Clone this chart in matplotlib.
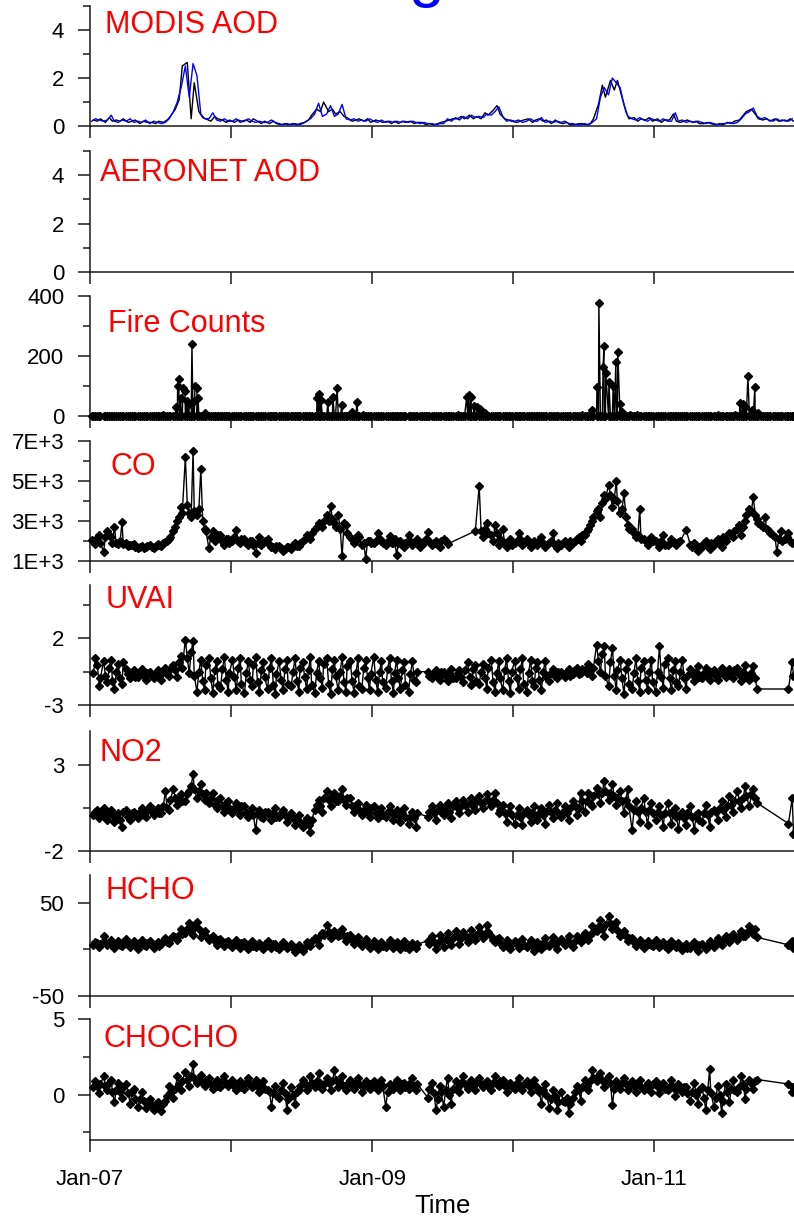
import numpy as np
import pandas as pd
import matplotlib
matplotlib.use("Agg")
import matplotlib.pyplot as plt

plt.rcParams['font.family'] = ['Liberation Sans', 'DejaVu Sans']

nan = np.nan
W, H = 794, 1218

# sample dates: two interleaved sets of three per month, Jan 2007 - Dec 2011
months = pd.date_range('2007-01-01', '2011-12-01', freq='MS')
dates = pd.DatetimeIndex([m + pd.Timedelta(days=d) for m in months for d in (4, 14, 24)])
dates_b = pd.DatetimeIndex([m + pd.Timedelta(days=d) for m in months for d in (9, 19, 27)])

xtick_dates = ['2007-01-01', '2008-01-01', '2009-01-01', '2010-01-01', '2011-01-01']
xtick_labels = ['Jan-07', '', 'Jan-09', '', 'Jan-11']

# MODIS AOD (blue = Aqua on dates, black = Terra on dates_b)
aod_aqua = [
    0.2, 0.3, 0.25, 0.2, 0.25, 0.45, 0.2, 0.15, 0.25, 0.2, 0.3, 0.15, 0.2, 0.15, 0.25, 0.1, 0.2, 0.15,
    0.1, 0.15, 0.3, 0.6, 1.0, 1.6, 2.5, 1.2, 2.6, 2.1, 0.5, 0.3, 0.3, 0.55, 0.25, 0.2, 0.3, 0.2,
    0.2, 0.3, 0.15, 0.2, 0.3, 0.2, 0.15, 0.2, 0.15, 0.15, 0.25, 0.15, 0.1, 0.05, 0.1, 0.05, 0.1, 0.05,
    0.1, 0.2, 0.3, 0.5, 0.95, 0.4, 0.5, 0.85, 0.4, 0.5, 0.9, 0.3, 0.25, 0.3, 0.2, 0.25, 0.2, 0.3,
    0.2, 0.15, 0.25, 0.15, 0.2, 0.15, 0.2, 0.15, 0.2, 0.15, 0.2, 0.15, 0.1, 0.15, 0.1, 0.1, 0.05, 0.1,
    0.1, 0.3, 0.2, 0.35, 0.25, 0.4, 0.3, 0.45, 0.35, 0.4, 0.35, 0.5, 0.45, 0.6, 0.8, 0.4, 0.2, 0.25,
    0.2, 0.25, 0.15, 0.2, 0.3, 0.2, 0.2, 0.35, 0.15, 0.2, 0.15, 0.2, 0.15, 0.2, 0.1, 0.1, 0.05, 0.05,
    0.1, 0.05, 0.15, 0.3, 1.2, 1.6, 1.3, 2.0, 1.8, 1.6, 0.9, 0.4, 0.3, 0.25, 0.35, 0.25, 0.2, 0.3,
    0.25, 0.2, 0.3, 0.2, 0.2, 0.55, 0.2, 0.25, 0.15, 0.2, 0.15, 0.2, 0.15, 0.1, 0.15, 0.1, 0.05, 0.1,
    0.1, 0.15, 0.1, 0.15, 0.3, 0.5, 0.6, 0.75, 0.4, 0.3, 0.35, 0.25, 0.2, 0.3, 0.2, 0.25, 0.2, 0.3,
]
aod_terra = [
    0.25, 0.2, 0.3, 0.15, 0.35, 0.2, 0.25, 0.2, 0.3, 0.15, 0.2, 0.25, 0.1, 0.2, 0.15, 0.15, 0.1, 0.2,
    0.15, 0.25, 0.4, 0.7, 1.1, 2.5, 2.65, 0.3, 1.8, 0.6, 0.35, 0.3, 0.2, 0.4, 0.3, 0.25, 0.15, 0.25,
    0.15, 0.25, 0.2, 0.25, 0.15, 0.3, 0.2, 0.1, 0.2, 0.1, 0.2, 0.1, 0.05, 0.1, 0.05, 0.1, 0.05, 0.1,
    0.15, 0.25, 0.45, 0.7, 0.6, 1.0, 0.6, 0.7, 0.5, 0.6, 0.4, 0.35, 0.2, 0.25, 0.3, 0.2, 0.3, 0.15,
    0.25, 0.2, 0.15, 0.2, 0.1, 0.2, 0.1, 0.2, 0.15, 0.2, 0.1, 0.15, 0.15, 0.05, 0.1, 0.05, 0.1, 0.15,
    0.2, 0.25, 0.3, 0.3, 0.4, 0.3, 0.45, 0.3, 0.4, 0.3, 0.55, 0.45, 0.65, 0.85, 0.5, 0.3, 0.25, 0.2,
    0.15, 0.2, 0.25, 0.3, 0.15, 0.25, 0.3, 0.2, 0.25, 0.1, 0.25, 0.15, 0.1, 0.15, 0.05, 0.05, 0.1, 0.1,
    0.05, 0.1, 0.3, 0.9, 1.7, 1.2, 1.9, 1.5, 1.9, 1.2, 0.6, 0.3, 0.35, 0.2, 0.3, 0.25, 0.35, 0.2,
    0.3, 0.15, 0.25, 0.25, 0.5, 0.2, 0.15, 0.2, 0.25, 0.15, 0.2, 0.1, 0.1, 0.15, 0.1, 0.05, 0.1, 0.05,
    0.15, 0.1, 0.2, 0.25, 0.45, 0.6, 0.7, 0.5, 0.3, 0.25, 0.3, 0.2, 0.3, 0.2, 0.25, 0.2, 0.3, 0.2,
]
aeronet_aod = []  # no AERONET data in this period

# fire counts: zero on all sampled dates, plus these fire days
fire_days = [
    '2007-07-09', '2007-08-11', '2007-08-16', '2007-08-19', '2007-08-24', '2007-08-30', '2007-09-04',
    '2007-09-09', '2007-09-14', '2007-09-22', '2007-09-27', '2007-09-30', '2007-10-05', '2007-10-08',
    '2007-10-26',
    '2008-08-11', '2008-08-16', '2008-08-21', '2008-09-08', '2008-09-21', '2008-10-02', '2008-10-15',
    '2008-11-09', '2008-11-22', '2008-12-08',
    '2009-08-11', '2009-09-03', '2009-09-08', '2009-09-14', '2009-09-21', '2009-09-29', '2009-10-07',
    '2009-10-20',
    '2010-06-29', '2010-07-24', '2010-08-06', '2010-08-11', '2010-08-22', '2010-08-24', '2010-08-29',
    '2010-09-06', '2010-09-17', '2010-09-24', '2010-09-29', '2010-10-05', '2010-10-10', '2010-10-31',
    '2010-11-18',
    '2011-06-15', '2011-07-29', '2011-08-11', '2011-08-19', '2011-08-24', '2011-09-01', '2011-09-12',
    '2011-09-19', '2011-09-27',
]
fire_counts = [
    5, 30, 100, 125, 60, 95, 85, 50, 40, 240, 50, 100, 95, 60, 10,
    60, 73, 55, 47, 63, 93, 38, 15, 47, 5,
    5, 65, 70, 65, 35, 30, 25, 10,
    5, 20, 97, 377, 163, 233, 143, 113, 100, 180, 213, 40, 15, 5, 5,
    3, 5, 43, 40, 30, 133, 20, 97, 10,
]

co = [
    2050, 1850, 2300, 1450, 2500, 2200, 2700, 1850, 2950, 1900, 1800, 1850, 1650, 1750, 1700, 1800, 1650, 1850,
    1750, 1950, 2100, 2500, 3000, 3700, 6200, 3400, 6500, 3300, 5600, 2600, 1650, 2500, 2200, 2300, 1800, 2100,
    2000, 2550, 1900, 2100, 1800, 2000, 1400, 2200, 1900, 2100, 1700, 1600, 1750, 1500, 1700, 1600, 1900, 1750,
    2000, 2300, 2100, 2600, 2900, 2700, 3300, 3750, 2900, 3300, 1250, 2800, 2200, 1900, 2300, 1800, 1100, 2000,
    1900, 2400, 2000, 1800, 2250, 1900, 1300, 2000, 1700, 2300, 1800, 2000, 1700, 1900, 2450, 1800, 2000, 1700,
    2100, 1850, nan, nan, nan, nan, nan, nan, 2500, 4750, 2200, 2900, 2300, 2800, 1800, 2600, 1700, 2100,
    1900, 2400, 1800, 2100, 1700, 2000, 1800, 2200, 1700, 1900, 2400, 1650, 1800, 2000, 1700, 1900, 2100, 2000,
    2300, 2600, 3000, 3500, 3200, 4300, 4800, 3700, 5000, 3400, 4400, 2800, 2600, 2200, 3600, 2100, 1800, 2200,
    2000, 1700, 2300, 1800, 2100, 1900, 1950, nan, 2550, 1800, 1900, 1500, 1700, 2000, 1600, 1800, 2100, 1700,
    2000, 2400, 2200, 2600, 2300, 3000, 3600, 4200, 3100, 2800, 3200, 2500, 2300, 1450, 2500, 2100, 2400, 1900,
]
co_b = [
    2000, 2150, 1900, 2200, 2300, 1900, 1900, 2000, 1850, 1750, 1800, 1700, 1700, 1650, 1750, 1700, 1750, 1800,
    1900, 2000, 2200, 2700, 3200, 3400, 3800, 3200, 3500, 3600, 3000, 2500, 2200, 2000, 2300, 2000, 2100, 1900,
    2200, 2000, 2100, 1900, 2000, 1800, 1900, 1800, 2000, 1800, 1700, 1750, 1650, 1600, 1700, 1800, 1750, 1900,
    2100, 2200, 2400, 2700, 2800, 3000, 3000, 3100, 2700, 2600, 2900, 2400, 2100, 2000, 2200, 1900, 2000, 1900,
    2000, 2100, 1900, 2000, 1900, 2100, 1900, 1800, 1900, 2000, 1900, 2100, 1900, 2100, 2000, 1900, 1800, 2000,
    2000, nan, nan, nan, nan, nan, nan, nan, nan, 2500, 2600, 2400, 2000, 2400, 2100, 1900, 2000, 1800,
    2000, 2100, 1900, 1900, 1850, 1900, 2000, 1900, 1800, 2000, 1800, 1900, 1900, 1850, 2000, 2000, 2200, 2300,
    2500, 2800, 3200, 3600, 3900, 4100, 4300, 4100, 4000, 3600, 3200, 2600, 2400, 2300, 2100, 2000, 1900, 2000,
    1900, 2000, 1800, 1900, 2000, 1800, 2000, nan, nan, 1700, 1800, 1700, 1900, 1800, 1900, 2000, 1900, 2200,
    2200, 2300, 2500, 2800, 2700, 3300, 3500, 3300, 2900, 2700, 2600, 2400, 2200, 2100, 2000, 2200, 2000, nan,
]

uvai = [
    nan, 0.5, -1.6, 0.3, -1.3, 0.4, -1.8, 0.1, -1.4, -0.3, -1.0, -0.4, -0.9, -0.3, -1.1, -0.5, -1.0, -0.4,
    -1.1, -0.2, -0.8, 0.0, -0.9, 0.7, 1.9, -0.6, 1.8, -2.0, 0.4, -1.9, 0.5, -2.1, 0.3, -1.7, 0.6, -2.0,
    0.4, -1.9, 0.5, -2.1, 0.3, -1.6, 0.6, -2.0, 0.2, -1.8, 0.5, -2.2, 0.3, -1.9, 0.4, -1.6, 0.5, -2.0,
    0.2, -1.8, 0.6, -2.1, 0.3, -1.7, 0.5, -2.2, 0.4, -1.9, 0.6, -2.0, 0.3, -2.1, 0.5, -1.8, 0.4, -1.9,
    0.6, -2.0, 0.3, -1.7, 0.5, -2.1, 0.4, -1.8, 0.2, -2.0, 0.3, -1.3, nan, nan, -0.5, -1.0, -0.4, -1.1,
    -0.5, -1.2, -0.3, -1.0, -0.4, -1.3, 0.2, -1.5, 0.0, -1.4, 0.1, -1.8, 0.4, -2.0, 0.3, -1.9, 0.5, -2.1,
    0.3, -1.8, 0.5, -2.0, 0.4, -1.6, 0.2, -1.9, 0.3, -1.2, -0.3, -1.0, -0.5, -0.9, -0.3, -0.7, -0.2, -0.6,
    -0.4, 0.1, -0.8, 1.5, -0.5, 1.4, -1.6, 1.3, -1.9, 0.4, -2.2, 0.2, -1.8, 0.5, -2.0, 0.3, -1.9, 0.4,
    -2.0, 1.4, -1.7, 0.5, -1.9, 0.3, -1.6, 0.4, -1.8, -0.3, -1.2, -0.1, -1.0, -0.2, -1.1, -0.4, -1.1, -0.2,
    -0.9, -0.3, -1.0, -0.2, -1.2, 0.0, -1.1, -0.1, -1.8, nan, nan, nan, nan, nan, nan, nan, -1.8, 0.2,
]
uvai_b = [
    -0.6, 0.0, -1.0, -0.8, -0.2, -1.2, -0.5, -1.0, 0.2, -0.7, -0.5, -0.9, -0.5, -0.8, -0.6, -0.8, -0.6, -0.9,
    -0.5, -0.7, -0.3, -0.4, 0.2, -0.2, 0.5, 1.0, -0.8, -0.5, -1.2, 0.0, -1.0, -0.4, -1.5, -0.3, -1.1, -0.6,
    -0.9, -0.2, -1.4, -0.6, -1.1, 0.0, -1.3, -0.4, -0.9, -0.2, -1.5, -0.7, -1.1, -0.3, -1.4, -0.5, -1.2, -0.2,
    -0.9, -0.4, -1.5, -0.6, -1.0, 0.1, -1.4, -0.3, -0.8, -0.5, -1.3, -0.1, -1.2, -0.6, -1.6, -0.2, -1.0, -0.7,
    -1.1, -0.5, -1.3, -0.3, -1.2, -0.6, -1.0, -0.4, -1.5, -0.7, -1.1, -0.5, nan, nan, -0.8, -0.6, -0.9, -0.5,
    -0.8, -0.6, -1.0, -0.6, -0.9, -0.4, -0.9, -0.3, -1.2, -0.5, -1.0, -0.2, -1.3, -0.6, -1.0, -0.4, -1.2, -0.5,
    -1.0, -0.3, -1.4, -0.6, -1.2, -0.2, -1.1, -0.5, -0.9, -0.6, -0.8, -0.5, -0.7, -0.5, -0.8, -0.4, -0.7, -0.3,
    -0.6, -0.3, -0.2, 0.3, 0.8, -0.8, 0.2, -0.8, -0.4, -1.0, -0.3, -1.4, -0.6, -1.2, -0.2, -1.1, -0.5, -1.3,
    -0.5, -0.9, 0.1, -1.0, -0.4, -1.3, -0.5, -1.0, -0.8, -0.7, -0.5, -0.9, -0.6, -0.8, -0.5, -0.8, -0.6, -0.7,
    -0.5, -0.8, -0.4, -0.7, -0.5, -0.9, -0.6, -1.0, nan, nan, nan, nan, nan, nan, nan, nan, nan, -0.8,
]

no2 = [
    nan, 0.3, -0.1, 0.5, -0.2, 0.4, -0.3, 0.2, -0.6, 0.4, -0.2, 0.3, -0.1, 0.5, 0.0, 0.6, 0.1, 0.5,
    0.2, 1.5, 0.4, 1.6, 0.7, 1.3, 0.9, 1.5, 2.5, 1.1, 1.9, 1.0, 0.8, 1.4, 0.5, 1.1, 0.3, 0.9,
    0.2, 0.8, 0.1, 0.6, 0.0, 0.5, -0.8, 0.4, -0.1, 0.3, -0.2, 0.5, 0.0, 0.4, -0.3, 0.2, -0.5, 0.1,
    -0.6, -0.1, -0.9, 0.4, 1.0, 0.3, 1.5, 0.6, 1.4, 0.9, 1.6, 0.7, 1.1, 0.3, 0.8, 0.1, 0.7, 0.0,
    0.6, -0.1, 0.5, 0.0, 0.6, -0.2, 0.4, -0.3, 0.5, -0.4, 0.3, -0.6, nan, nan, 0.0, 0.6, -0.2, 0.7,
    0.1, 0.8, -0.1, 0.9, 0.2, 1.0, 0.3, 1.1, 0.4, 1.2, 0.5, 1.3, 0.6, 1.4, 0.2, 0.7, -0.3, 0.6,
    -0.4, 0.5, -0.5, 0.4, -0.3, 0.6, -0.2, 0.5, -0.4, 0.7, -0.1, 0.8, 0.0, 0.6, -0.2, 0.9, 0.1, 1.4,
    0.3, 1.4, 0.6, 1.7, 0.8, 2.1, 1.0, 1.9, 0.7, 1.5, 0.2, 1.6, -0.8, 0.9, -0.3, 1.1, -0.5, 0.8,
    -0.2, 0.6, -0.6, 0.8, -0.4, 0.5, -0.7, 0.3, -0.5, 0.6, -0.8, 0.2, -0.3, 0.7, -0.6, 0.4, -0.2, 0.9,
    0.0, 1.2, 0.3, 1.5, 0.5, 1.8, 0.6, 1.6, 0.8, nan, nan, nan, nan, nan, nan, nan, -0.4, 1.1,
]
no2_b = [
    0.1, 0.4, 0.2, 0.0, 0.3, 0.1, 0.1, -0.2, 0.3, 0.0, 0.2, 0.1, 0.3, 0.1, 0.4, 0.3, 0.4, 0.2,
    0.6, 0.5, 1.0, 1.1, 1.0, 0.9, 1.3, 1.8, 1.6, 1.5, 1.3, 1.4, 1.1, 0.7, 1.0, 0.6, 0.8, 0.5,
    0.5, 0.4, 0.6, 0.3, 0.2, 0.1, 0.2, 0.0, 0.3, 0.1, 0.2, 0.0, 0.2, 0.1, 0.0, -0.1, -0.2, -0.3,
    -0.3, -0.5, -0.2, 0.7, 0.6, 1.1, 1.0, 1.2, 0.9, 1.2, 1.0, 1.1, 0.6, 0.7, 0.4, 0.4, 0.3, 0.5,
    0.2, 0.3, 0.1, 0.3, 0.2, 0.2, 0.1, 0.2, 0.0, 0.0, -0.1, 0.2, nan, nan, 0.3, 0.2, 0.4, 0.3,
    0.5, 0.3, 0.6, 0.5, 0.6, 0.7, 0.8, 0.6, 0.9, 0.8, 0.9, 1.0, 1.0, 0.8, 0.4, 0.2, 0.3, 0.1,
    0.1, 0.0, 0.2, 0.1, 0.2, 0.0, 0.2, 0.1, 0.3, 0.3, 0.4, 0.2, 0.3, 0.2, 0.5, 0.6, 0.5, 0.9,
    0.9, 0.8, 1.2, 1.3, 1.4, 1.5, 1.4, 1.2, 1.1, 0.9, 1.0, 0.6, 0.4, 0.3, 0.5, 0.3, 0.4, 0.2,
    0.3, 0.1, 0.2, 0.2, 0.3, 0.0, 0.1, -0.1, 0.2, 0.0, 0.1, -0.2, 0.2, 0.1, 0.3, 0.3, 0.5, 0.4,
    0.6, 0.7, 0.9, 0.9, 1.1, 1.2, 1.3, 1.1, nan, nan, nan, nan, nan, nan, nan, nan, nan, -1.0,
]

hcho = [
    nan, 8, 3, 14, 5, 10, 2, 9, 4, 11, 3, 9, 1, 10, 4, 9, 2, 8,
    6, 12, 7, 15, 10, 22, 18, 28, 16, 30, 13, 20, 10, 15, 5, 11, 4, 9,
    3, 10, 2, 8, 1, 9, 3, 7, 0, 9, 2, 6, 0, 8, 2, 6, -3, 5,
    -2, 8, 4, 12, 5, 18, 26, 12, 20, 14, 22, 9, 16, 6, 13, 4, 11, 2,
    9, 1, 8, 3, 10, 2, 8, 0, 9, 1, 7, 2, nan, nan, 9, 14, 0, 16,
    3, 18, 5, 20, 6, 19, 8, 21, 10, 24, 12, 26, 14, 8, 12, 3, 10, 1,
    9, 2, 11, 3, 10, -2, 8, 1, 12, 4, 13, 0, 11, 5, 14, 3, 15, 8,
    18, 10, 25, 20, 32, 15, 36, 22, 30, 14, 20, 9, 12, 4, 10, 2, 9, 5,
    10, 3, 8, 1, 9, 4, 7, -1, 6, 2, 8, -2, 6, 0, 9, 3, 12, 5,
    14, 8, 17, 10, 20, 15, 25, 17, 13, nan, nan, nan, nan, nan, nan, nan, 5, 9,
]
hcho_b = [
    5, 7, 6, 8, 7, 5, 6, 5, 8, 6, 7, 5, 6, 5, 7, 5, 6, 4,
    9, 8, 11, 13, 16, 17, 22, 20, 24, 22, 18, 15, 12, 9, 10, 7, 8, 6,
    6, 5, 7, 5, 6, 4, 5, 4, 6, 5, 6, 3, 4, 5, 3, 2, 1, 2,
    3, 6, 9, 10, 14, 16, 19, 17, 18, 16, 14, 15, 10, 11, 8, 7, 6, 5,
    5, 6, 4, 6, 5, 6, 4, 5, 3, 5, 4, 6, nan, nan, 6, 8, 7, 10,
    11, 9, 12, 13, 12, 14, 15, 13, 16, 18, 17, 19, 10, 11, 7, 6, 5, 6,
    6, 7, 5, 6, 4, 5, 6, 7, 5, 7, 6, 8, 9, 8, 7, 9, 11, 13,
    14, 16, 19, 24, 22, 26, 28, 26, 21, 17, 15, 12, 8, 7, 6, 5, 6, 4,
    6, 5, 4, 5, 6, 3, 3, 4, 2, 4, 3, 5, 4, 5, 6, 8, 7, 10,
    11, 12, 13, 15, 14, 18, 20, 22, nan, nan, nan, nan, nan, nan, nan, nan, nan, 2,
]

chocho = [
    nan, 0.9, 0.1, 1.2, 0.3, 1.0, -0.5, 0.8, -0.2, 0.7, -0.6, 0.4, -0.8, 0.2, -0.9, -0.3, -1.0, -0.5,
    -1.1, -0.4, 0.6, -0.2, 1.2, 0.3, 1.5, 0.6, 2.0, 0.8, 1.3, 0.6, 1.1, 0.4, 1.0, 0.5, 1.2, 0.6,
    1.0, 0.3, 0.9, 0.4, 1.1, 0.5, 1.0, 0.2, 0.9, 0.3, -0.8, 0.6, -0.2, 0.8, -1.0, 0.5, -0.6, 0.3,
    1.0, 0.3, 1.2, 0.5, 1.4, 0.4, 1.1, 0.3, 1.6, 0.5, 1.2, 0.3, 1.0, 0.4, 1.1, 0.2, 0.9, 0.4,
    0.9, 0.3, 1.0, -0.8, 0.7, 0.4, 1.0, 0.3, 0.8, 0.4, 1.1, 0.3, nan, nan, -0.2, 0.8, -1.0, 0.6,
    -0.8, 1.1, -0.6, 0.9, 0.2, 1.2, 0.4, 1.0, 0.3, 1.1, 0.5, 0.9, 0.3, 1.2, 0.6, 1.0, 0.2, 0.8,
    0.4, 1.1, 0.3, 0.9, 0.2, 1.0, 0.5, -0.6, 0.7, -0.9, 0.3, -1.0, 0.2, -0.5, -1.2, -0.2, 0.6, -0.4,
    1.0, 0.3, 1.6, 0.9, 1.4, 0.5, 1.2, -0.7, 0.9, 0.4, 1.1, 0.3, 0.9, 0.2, 1.0, 0.3, 0.8, 0.2,
    0.9, 0.1, 0.8, 0.3, 1.0, -0.1, 0.7, 0.2, 0.5, -0.4, 0.8, -0.6, 0.5, -1.0, 1.7, -0.8, 0.6, -1.2,
    0.7, -0.5, 1.0, 0.2, 1.2, -0.3, 1.0, 0.4, 1.0, nan, nan, nan, nan, nan, nan, nan, 0.7, 0.2,
]
chocho_b = [
    0.5, 0.6, 0.7, 0.6, 0.8, 0.2, 0.3, 0.2, 0.5, 0.1, 0.2, -0.3, -0.3, -0.4, -0.5, -0.7, -0.6, -0.8,
    -0.6, -0.1, 0.1, 0.4, 0.7, 0.9, 1.0, 1.2, 1.1, 0.9, 0.8, 1.0, 0.7, 0.8, 0.6, 0.9, 0.8, 0.7,
    0.6, 0.7, 0.5, 0.8, 0.7, 0.6, 0.5, 0.7, 0.4, 0.2, 0.1, 0.0, 0.3, 0.1, -0.3, 0.0, 0.2, 0.6,
    0.7, 0.6, 0.8, 0.9, 0.8, 0.7, 0.8, 0.9, 1.0, 0.8, 0.6, 0.7, 0.6, 0.8, 0.7, 0.6, 0.5, 0.7,
    0.5, 0.7, 0.6, 0.2, 0.5, 0.7, 0.6, 0.7, 0.5, 0.8, 0.6, 0.7, nan, nan, 0.4, 0.1, -0.3, 0.2,
    0.3, 0.0, 0.4, 0.5, 0.8, 0.7, 0.7, 0.6, 0.8, 0.7, 0.8, 0.6, 0.8, 0.7, 0.9, 0.6, 0.7, 0.5,
    0.8, 0.6, 0.7, 0.6, 0.7, 0.5, 0.2, 0.3, 0.0, -0.3, -0.1, -0.5, -0.4, -0.2, -0.6, 0.2, 0.3, 0.5,
    0.6, 0.9, 1.1, 1.2, 1.0, 0.9, 0.8, 0.4, 0.6, 0.8, 0.7, 0.6, 0.6, 0.7, 0.5, 0.6, 0.5, 0.7,
    0.5, 0.6, 0.4, 0.6, 0.5, 0.3, 0.4, 0.5, 0.1, 0.2, 0.0, 0.3, -0.2, 0.3, 0.1, -0.2, 0.0, -0.4,
    0.2, 0.4, 0.3, 0.5, 0.7, 0.4, 0.8, 0.9, nan, nan, nan, nan, nan, nan, nan, nan, nan, 0.5,
]

labels = ['MODIS AOD', 'AERONET AOD', 'Fire Counts', 'CO', 'UVAI', 'NO2', 'HCHO', 'CHOCHO']
ytick_labels = [
    ['0', '2', '4'], ['0', '2', '4'], ['0', '200', '400'], ['1E+3', '3E+3', '5E+3', '7E+3'],
    ['-3', '2'], ['-2', '3'], ['-50', '50'], ['0', '5'],
]

# layout in pixels: panel top/bottom, limits, ticks, label position (left, baseline)
layout = [
    dict(top=6, bottom=126, ylim=(0, 5), major=[0, 2, 4], minor=[1, 3, 5], txt=(105, 33)),
    dict(top=151, bottom=272, ylim=(0, 5), major=[0, 2, 4], minor=[1, 3, 5], txt=(100, 181)),
    dict(top=296, bottom=416, ylim=(0, 400), major=[0, 200, 400], minor=[100, 300], txt=(108, 332)),
    dict(top=441, bottom=561, ylim=(1000, 7000), major=[1000, 3000, 5000, 7000], minor=[2000, 4000, 6000], txt=(110, 475)),
    dict(top=585, bottom=705, ylim=(-3, 6), major=[-3, 2], minor=[-0.5, 4.5], txt=(106, 608)),
    dict(top=731, bottom=851, ylim=(-2, 5), major=[-2, 3], minor=[0.5], txt=(100, 761)),
    dict(top=875, bottom=996, ylim=(-50, 80), major=[-50, 50], minor=[0], txt=(106, 899)),
    dict(top=1019, bottom=1140, ylim=(-3, 5), major=[0, 5], minor=[-2.5, 2.5], txt=(103, 1047)),
]

fig = plt.figure(figsize=(W / 100, H / 100), dpi=100)
xt = pd.to_datetime(xtick_dates)


def merged(a, b):
    s = pd.Series(list(a) + list(b), index=list(dates) + list(dates_b), dtype=float)
    return s.dropna().sort_index()


def draw_marked(ax, s):
    ax.plot(s.index, s.values, '-', color='black', lw=1.0, marker='D', ms=4.2,
            mfc='black', mec='black', clip_on=False, zorder=3)


axes = []
for i, p in enumerate(layout):
    ax = fig.add_axes([90 / W, 1 - p['bottom'] / H, 705 / W, (p['bottom'] - p['top']) / H])
    axes.append(ax)
    ax.set_xlim(pd.Timestamp('2007-01-01'), pd.Timestamp('2012-01-01'))
    ax.set_ylim(*p['ylim'])
    for s in ['top', 'right']:
        ax.spines[s].set_visible(False)
    for s in ['left', 'bottom']:
        ax.spines[s].set_linewidth(1.1)
        ax.spines[s].set_color('#1a1a1a')
    ax.set_yticks(p['major'])
    ax.set_yticklabels(ytick_labels[i])
    ax.set_yticks(p['minor'], minor=True)
    ax.set_xticks(xt)
    ax.set_xticklabels(xtick_labels if i == len(layout) - 1 else [''] * len(xt))
    ax.tick_params(which='major', direction='out', length=8.6, width=1.1, color='#1a1a1a',
                   labelsize=16, pad=10)
    ax.tick_params(which='minor', direction='out', length=5, width=1.1, color='#1a1a1a')
    ax.tick_params(axis='x', pad=12)
    fig.text(p['txt'][0] / W, 1 - p['txt'][1] / H, labels[i], color='red', fontsize=22,
             ha='left', va='baseline')

# MODIS AOD
axes[0].plot(dates_b, aod_terra, color='black', lw=1.0, zorder=2)
axes[0].plot(dates, aod_aqua, color='blue', lw=1.0, zorder=3)

# AERONET AOD (empty)
axes[1].plot(pd.to_datetime(aeronet_aod), aeronet_aod, color='black', lw=0.8)

# fire counts
fire = pd.Series(list(fire_counts) + [0] * (len(dates) + len(dates_b)),
                 index=list(pd.to_datetime(fire_days)) + list(dates) + list(dates_b)).sort_index()
draw_marked(axes[2], fire)

draw_marked(axes[3], merged(co, co_b))
draw_marked(axes[4], merged(uvai, uvai_b))
draw_marked(axes[5], merged(no2, no2_b))
draw_marked(axes[6], merged(hcho, hcho_b))
draw_marked(axes[7], merged(chocho, chocho_b))

fig.text(443 / W, 1 - 1213 / H, 'Time', fontsize=18.5, ha='center', va='baseline')
# title sits mostly above the canvas, as in the original
fig.text(452 / W, 1 + 5 / H, 'Burning Season', color='blue', fontsize=46, ha='center', va='baseline')

fig.savefig('out.png', dpi=100)
